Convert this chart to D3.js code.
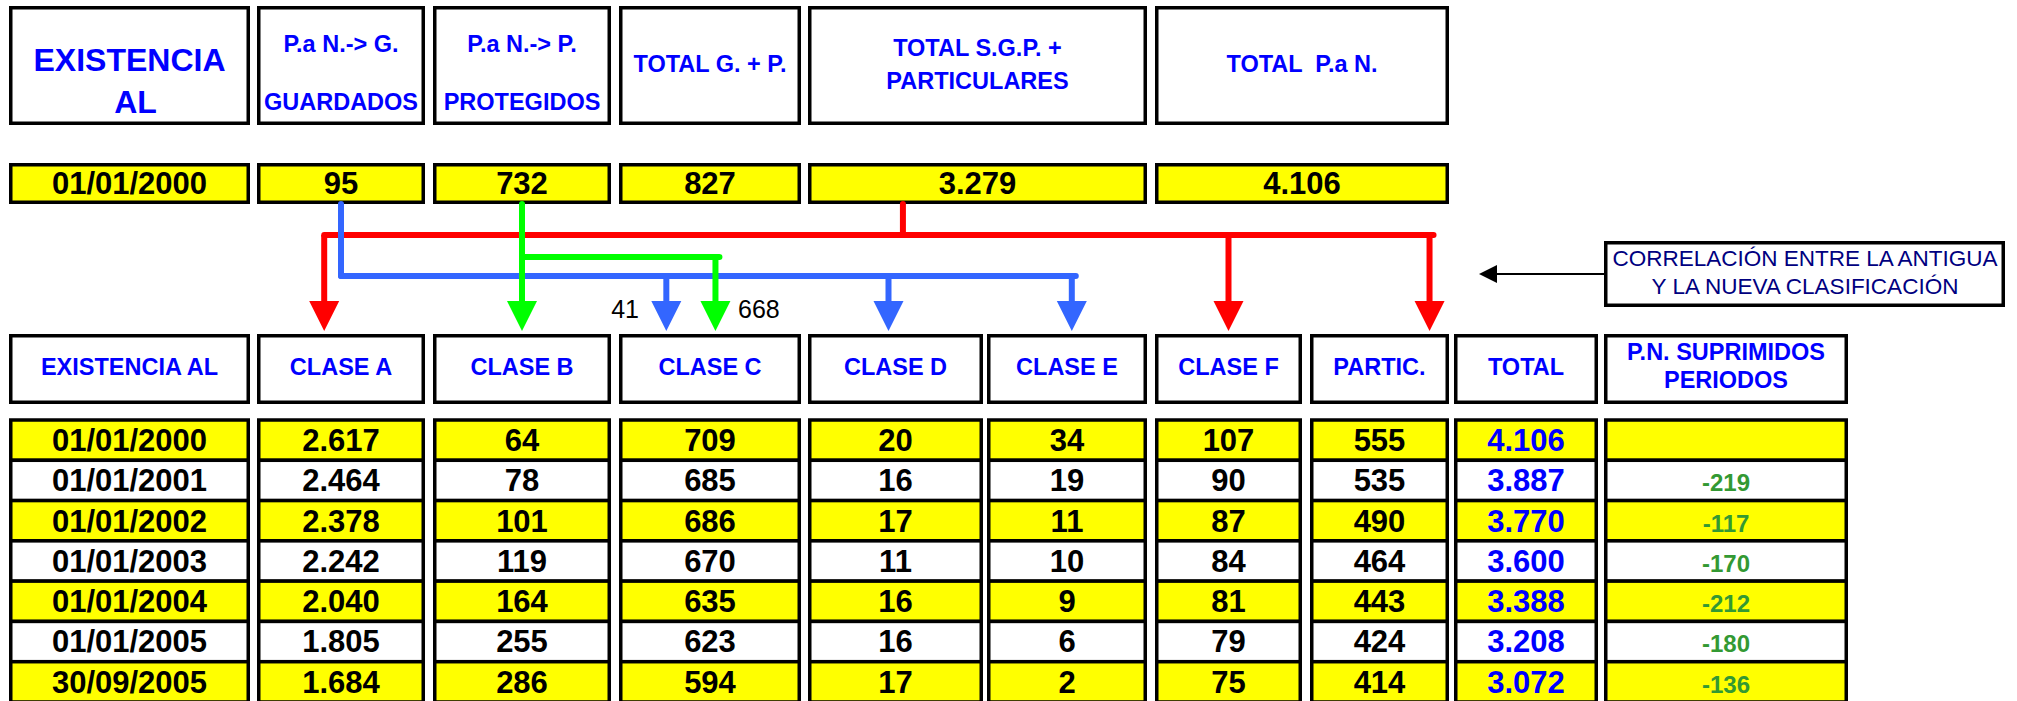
<!DOCTYPE html>
<html>
<head>
<meta charset="utf-8">
<script src="https://cdn.jsdelivr.net/npm/d3@7"></script>
<style>
  body { margin: 0; background: #fff; }
  svg { display: block; }
  text { font-family: "Liberation Sans", Arial, sans-serif; }
</style>
</head>
<body>
<svg id="chart" width="2017" height="701"></svg>
<script>
// old classification (top block)
var oldHeaders = [["EXISTENCIA", "AL"], ["P.a N.-> G.", "GUARDADOS"], ["P.a N.-> P.", "PROTEGIDOS"],
                  ["TOTAL G. + P."], ["TOTAL S.G.P. +", "PARTICULARES"], ["TOTAL  P.a N."]];
var oldDate = "01/01/2000";
var oldValues = [95, 732, 827, 3279, 4106];

// new classification (bottom table)
var newHeaders = ["EXISTENCIA AL", "CLASE A", "CLASE B", "CLASE C", "CLASE D", "CLASE E",
                  "CLASE F", "PARTIC.", "TOTAL", ["P.N. SUPRIMIDOS", "PERIODOS"]];
var dates = ["01/01/2000", "01/01/2001", "01/01/2002", "01/01/2003", "01/01/2004", "01/01/2005", "30/09/2005"];
var claseA = [2617, 2464, 2378, 2242, 2040, 1805, 1684];
var claseB = [64, 78, 101, 119, 164, 255, 286];
var claseC = [709, 685, 686, 670, 635, 623, 594];
var claseD = [20, 16, 17, 11, 16, 16, 17];
var claseE = [34, 19, 11, 10, 9, 6, 2];
var claseF = [107, 90, 87, 84, 81, 79, 75];
var partic = [555, 535, 490, 464, 443, 424, 414];
var total = [4106, 3887, 3770, 3600, 3388, 3208, 3072];
var suprimidos = [null, -219, -117, -170, -212, -180, -136];

// split of old groups into new classes
var splitC = [41, 668];
var noteText = ["CORRELACIÓN ENTRE LA ANTIGUA", "Y LA NUEVA CLASIFICACIÓN"];

var svg = d3.select("#chart");
var fmt = d3.formatLocale({ decimal: ",", thousands: ".", grouping: [3], currency: ["", ""], minus: "-" }).format(",d");

var YELLOW = "#ffff00", BLUE = "#0000ff", SW = 3.5;
var HS = 23.5; // header font size

// column edges shared by both blocks
var cols = [[9, 250], [257, 425], [433, 611], [619, 801], [808, 983], [987, 1147],
            [1155, 1302], [1310, 1449], [1454, 1598], [1604, 1848]];
var oldSpans = [[0, 0], [1, 1], [2, 2], [3, 3], [4, 5], [6, 7]];
function spanX(s) { return [cols[s[0]][0], cols[s[1]][1]]; }
function cx(e) { return (e[0] + e[1]) / 2; }

function box(x0, x1, y0, y1, fill) {
  svg.append("rect")
    .attr("x", x0 + SW / 2).attr("y", y0 + SW / 2)
    .attr("width", x1 - x0 - SW).attr("height", y1 - y0 - SW)
    .attr("fill", fill).attr("stroke", "#000").attr("stroke-width", SW);
}
function label(x, y, t, size, color, weight) {
  return svg.append("text").attr("x", x).attr("y", y).attr("text-anchor", "middle")
    .attr("font-size", size).attr("font-weight", weight || "bold").attr("fill", color).text(t);
}

// ---- top header boxes
oldSpans.forEach(function(s, i) {
  var e = spanX(s);
  box(e[0], e[1], 6, 125, "#fff");
  var lines = oldHeaders[i];
  if (i === 0) {
    label(cx(e), 71, lines[0], 32, BLUE);
    label(cx(e) + 6, 113, lines[1], 32, BLUE);
  } else if (i < 3) {
    label(cx(e), 52, lines[0], HS, BLUE);
    label(cx(e), 110, lines[1], HS, BLUE);
  } else if (lines.length === 2) {
    label(cx(e), 56, lines[0], HS, BLUE);
    label(cx(e), 89, lines[1], HS, BLUE);
  } else {
    label(cx(e), 72, lines[0], HS, BLUE).style("white-space", "pre");
  }
});

// ---- top value row
var oldRow = [oldDate].concat(oldValues.map(fmt));
oldSpans.forEach(function(s, i) {
  var e = spanX(s);
  box(e[0], e[1], 163, 204, YELLOW);
  label(cx(e), 194, oldRow[i], 31, "#000");
});

// ---- connectors (old -> new)
var links = [
  { color: "#ff0000", from: 4, fromF: 0.28, level: 235, to: [[1, 0.40], [6, 0.50], [7, 0.86]] },
  { color: "#3366ff", from: 1, fromF: 0.50, level: 276, to: [[3, 0.26], [4, 0.46], [5, 0.53]] },
  { color: "#00ff00", from: 2, fromF: 0.50, level: 257, to: [[2, 0.50], [3, 0.53]] }
];
var tipY = 331, headH = 30, headW = 15;
var lw = 6;

links.forEach(function(l) {
  var e = spanX(oldSpans[l.from]);
  var x0 = e[0] + (e[1] - e[0]) * l.fromF;
  var xs = l.to.map(function(t) { var c = cols[t[0]]; return c[0] + (c[1] - c[0]) * t[1]; });
  var g = svg.append("g").attr("stroke", l.color).attr("stroke-width", lw).attr("stroke-linecap", "round").attr("fill", "none");
  var xmin = Math.min(x0, d3.min(xs)), xmax = Math.max(x0, d3.max(xs));
  g.append("line").attr("x1", x0).attr("x2", x0).attr("y1", 204).attr("y2", l.level);
  g.append("line").attr("x1", xmin).attr("x2", xmax + 4).attr("y1", l.level).attr("y2", l.level);
  xs.forEach(function(x) {
    g.append("line").attr("x1", x).attr("x2", x).attr("y1", l.level).attr("y2", tipY - headH + 2).attr("stroke-linecap", "butt");
    svg.append("path")
      .attr("d", d3.line()([[x - headW, tipY - headH], [x + headW, tipY - headH], [x, tipY]]) + "Z")
      .attr("fill", l.color);
  });
});

// split numbers around CLASE C arrows
label(639, 318, splitC[0], 25, "#000", "normal").attr("text-anchor", "end");
label(738, 318, splitC[1], 25, "#000", "normal").attr("text-anchor", "start");

// ---- note box with arrow
box(1604, 2005, 241, 307, "#fff");
label(1805, 266, noteText[0], 22.5, "#000080", "normal");
label(1805, 294, noteText[1], 22.5, "#000080", "normal");
svg.append("line").attr("x1", 1605).attr("x2", 1492).attr("y1", 274).attr("y2", 274)
  .attr("stroke", "#000").attr("stroke-width", 2);
svg.append("path").attr("d", d3.line()([[1479, 274], [1497, 265], [1497, 283]]) + "Z").attr("fill", "#000");

// ---- new class headers
newHeaders.forEach(function(h, i) {
  var e = cols[i];
  box(e[0], e[1], 334, 404, "#fff");
  if (Array.isArray(h)) {
    label(cx(e), 360, h[0], HS, BLUE);
    label(cx(e), 388, h[1], HS, BLUE);
  } else {
    label(cx(e), 375, h, HS, BLUE);
  }
});

// ---- data table
var y = d3.scaleBand().domain(dates).range([420, 702]).paddingInner(0);
var columns = [dates, claseA, claseB, claseC, claseD, claseE, claseF, partic, total, suprimidos];

columns.forEach(function(vals, ci) {
  var e = cols[ci];
  var g = svg.append("g");
  dates.forEach(function(d, ri) {
    g.append("rect")
      .attr("x", e[0] + SW / 2).attr("y", y(d))
      .attr("width", e[1] - e[0] - SW).attr("height", y.bandwidth())
      .attr("fill", ri % 2 === 0 ? YELLOW : "#fff")
      .attr("stroke", "#000").attr("stroke-width", SW);
  });
  dates.forEach(function(d, ri) {
    var v = vals[ri];
    if (v === null) return;
    var t = ci === 0 ? v : fmt(v);
    var color = ci === 8 ? BLUE : (ci === 9 ? "#339933" : "#000");
    var size = ci === 9 ? 24 : 31;
    g.append("text").attr("x", cx(e)).attr("y", y(d) + 31)
      .attr("text-anchor", "middle").attr("font-size", size).attr("font-weight", "bold")
      .attr("fill", color).text(t);
  });
});
</script>
</body>
</html>
